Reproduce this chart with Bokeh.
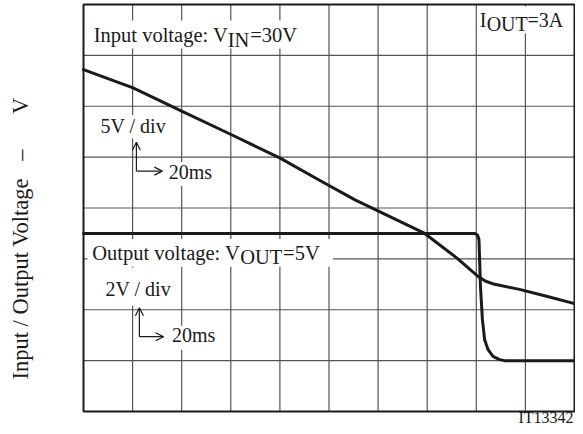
import math
from bokeh.plotting import figure
from bokeh.models import Label, Arrow, OpenHead, Range1d
from bokeh.embed import file_html
from bokeh.resources import INLINE

# ---- data ----
time_in_ms = [0, 20.2, 40.2, 60.3, 80.1, 96.3, 110.6, 139.0, 152.0, 160.6, 163.8, 167.5, 177.6, 189.0, 200]
vin_V = [28.6, 26.8, 24.5, 22.2, 19.9, 17.7, 15.8, 12.5, 10.1, 8.3, 7.8, 7.5, 7.0, 6.3, 5.6]
time_out_ms = [0, 159.3, 160.5, 161.1, 161.7, 162.5, 163.4, 164.8, 166.8, 169.5, 171.5, 200]
vout_V = [5.0, 5.0, 4.94, 4.75, 2.9, 1.6, 0.82, 0.43, 0.17, 0.04, 0.0, 0.0]

MS_PER_DIV = 20
VIN_PER_DIV = 5
VOUT_PER_DIV = 2
ZERO_DIV = 1
N_XDIV = 10
N_YDIV = 8

FONT = "Liberation Serif"
INK = "#1a1a1a"
GRID = "#555555"

x_in = [t / MS_PER_DIV for t in time_in_ms]
y_in = [v / VIN_PER_DIV + ZERO_DIV for v in vin_V]
x_out = [t / MS_PER_DIV for t in time_out_ms]
y_out = [v / VOUT_PER_DIV + ZERO_DIV for v in vout_V]

W, H = 575, 426
FL, FB = 83, 411          # frame left / bottom in canvas px
XPX = (574 - FL) / N_XDIV   # px per x division
YPX = (FB - 4) / N_YDIV     # px per y division
x0 = -FL / XPX
ybot = -(H - FB) / YPX
p = figure(width=W, height=H, min_border=0,
           x_range=Range1d(x0, x0 + W / XPX), y_range=Range1d(ybot, ybot + H / YPX),
           x_axis_location=None, y_axis_location=None,
           output_backend="svg", toolbar_location=None)
p.grid.visible = False
p.outline_line_color = None
p.background_fill_color = "white"
p.border_fill_color = "white"

# graticule
vx = list(range(1, N_XDIV))
hy = list(range(1, N_YDIV))
p.segment(x0=vx, y0=[0] * len(vx), x1=vx, y1=[N_YDIV] * len(vx), line_color=GRID, line_width=1.2)
p.segment(x0=[0] * len(hy), y0=hy, x1=[N_XDIV] * len(hy), y1=hy, line_color=GRID, line_width=1.2)

# reference-pixel -> division coordinates (for annotation placement)
def px2x(px):
    return (px - 83) / 49.2

def px2y(py):
    return (412 - py) / 51

# white boxes behind annotations
boxes = [(88, 306, 20, 48), (87, 333, 239, 267), (97, 170, 115, 138), (165, 220, 162, 186),
         (102, 176, 268, 306), (168, 223, 326, 350), (478, 571, 6, 33)]
p.quad(left=[px2x(b[0]) for b in boxes], right=[px2x(b[1]) for b in boxes],
       top=[px2y(b[2]) for b in boxes], bottom=[px2y(b[3]) for b in boxes],
       fill_color="white", line_color=None)

# frame
p.quad(left=[0], right=[N_XDIV], bottom=[0], top=[N_YDIV], fill_color=None,
       line_color=INK, line_width=2)

p.line(x_in, y_in, line_color=INK, line_width=3, line_join="round", line_cap="round")
p.line(x_out, y_out, line_color=INK, line_width=3, line_join="round", line_cap="round")

TEXT_DY = 7  # baseline correction (px)

def lab(px, py, text, size="20.5px", align="left", angle=0.0):
    if angle:
        px = px - TEXT_DY
    else:
        py = py - TEXT_DY
    p.add_layout(Label(x=px2x(px), y=px2y(py), text=text, text_font=FONT, text_font_size=size,
                       text_color=INK, text_align=align, text_baseline="alphabetic", angle=angle))

lab(93.3, 41.7, "Input voltage: V")
lab(227.5, 46.7, "IN")
lab(250, 41.7, "=30V")
lab(91.7, 260, "Output voltage: V")
lab(240, 264.5, "OUT")
lab(283, 260, "=5V")
lab(480, 27, "I", size="20px")
lab(487, 31, "OUT", size="20px")
lab(528, 27, "=3A", size="20px")
lab(100, 132.7, "5V / div", size="20px")
lab(168.3, 179, "20ms", size="20px")
lab(105, 296.7, "2V / div", size="20px")
lab(171.7, 342.7, "20ms", size="20px")
lab(574, 425.5, "IT13342", size="16px", align="right")
lab(27, 279, "Input / Output Voltage", size="22.5px", align="center", angle=math.pi / 2)
lab(27, 155, "–", size="22.5px", align="center", angle=math.pi / 2)
lab(27, 105.5, "V", size="22.5px", align="center", angle=math.pi / 2)

def arrow(xa, ya, xb, yb):
    p.add_layout(Arrow(end=OpenHead(size=8, line_width=1.2, line_color=INK),
                       x_start=px2x(xa), y_start=px2y(ya), x_end=px2x(xb), y_end=px2y(yb),
                       line_width=1.2, line_color=INK))

arrow(136, 171, 136, 142)
arrow(136, 171, 162, 171)
arrow(139, 337, 139, 308)
arrow(139, 337, 163.3, 337)

open("out.html", "w").write(file_html(p, INLINE))
